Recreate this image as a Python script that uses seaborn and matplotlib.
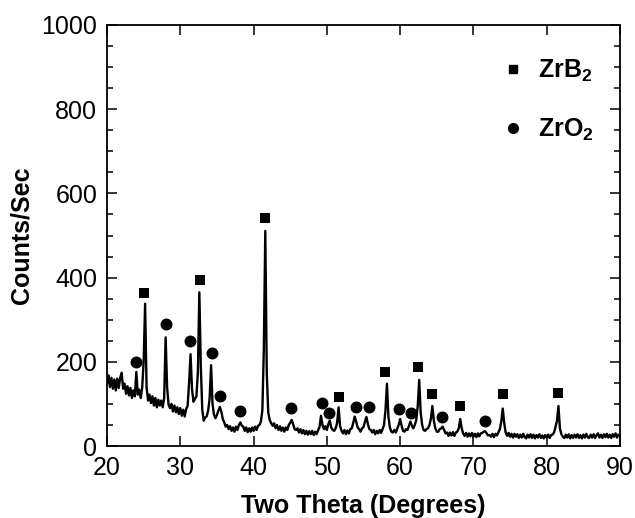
import numpy as np
import pandas as pd
import matplotlib
matplotlib.use("Agg")
import matplotlib.pyplot as plt
from matplotlib.lines import Line2D
from matplotlib.ticker import MultipleLocator
import seaborn as sns

# ---- data -------------------------------------------------------------
two_theta_start = 20.0
two_theta_step = 0.2
counts = [
    152, 168, 140, 162, 136, 158, 132, 160, 138, 162,   # 20.0
    174, 136, 148, 124, 142, 120, 138, 114, 132, 118,   # 22.0
    176, 122, 134, 114, 138, 200, 338, 140, 108, 122,   # 24.0
    102, 118, 96, 114, 92, 110, 96, 108, 92, 114,       # 26.0
    258, 140, 98, 90, 100, 82, 96, 80, 92, 76,          # 28.0
    90, 72, 86, 70, 88, 95, 150, 218, 135, 105,         # 30.0
    112, 118, 175, 365, 190, 86, 60, 68, 70, 84,        # 32.0
    112, 192, 100, 74, 66, 74, 84, 93, 82, 64,          # 34.0
    56, 46, 50, 40, 47, 36, 44, 34, 46, 38,             # 36.0
    50, 56, 48, 46, 36, 44, 33, 42, 34, 44,             # 38.0
    36, 46, 38, 48, 50, 58, 85, 230, 511, 175,          # 40.0
    80, 62, 54, 48, 54, 42, 50, 38, 47, 36,             # 42.0
    44, 34, 44, 38, 50, 55, 62, 52, 40, 38,             # 44.0
    42, 32, 40, 30, 38, 28, 36, 27, 35, 28,             # 46.0
    36, 26, 34, 28, 37, 45, 72, 50, 40, 47,             # 48.0
    38, 52, 60, 44, 38, 36, 42, 55, 92, 48,             # 50.0
    36, 30, 38, 28, 37, 30, 40, 42, 55, 70,             # 52.0
    58, 44, 40, 34, 42, 45, 58, 69, 52, 40,             # 54.0
    38, 32, 38, 28, 36, 30, 38, 31, 40, 50,             # 56.0
    85, 148, 70, 44, 34, 32, 38, 32, 41, 50,            # 58.0
    64, 48, 36, 34, 40, 38, 48, 58, 48, 42,             # 60.0
    50, 62, 95, 157, 80, 50, 38, 36, 40, 42,            # 62.0
    50, 65, 95, 60, 42, 34, 34, 40, 42, 46,             # 64.0
    38, 30, 32, 24, 32, 25, 33, 24, 32, 34,             # 66.0
    42, 64, 42, 30, 24, 31, 22, 30, 23, 31,             # 68.0
    22, 29, 21, 30, 23, 30, 31, 34, 35, 30,             # 70.0
    25, 26, 22, 29, 21, 29, 25, 32, 40, 58,             # 72.0
    89, 55, 32, 24, 31, 22, 29, 20, 29, 22,             # 74.0
    28, 19, 27, 20, 29, 21, 18, 27, 20, 28,             # 76.0
    19, 27, 18, 26, 20, 28, 19, 25, 18, 26,             # 78.0
    20, 27, 19, 26, 27, 32, 45, 60, 95, 42,             # 80.0
    28, 22, 19, 27, 20, 28, 18, 26, 19, 27,             # 82.0
    20, 28, 19, 26, 18, 27, 20, 29, 21, 19,             # 84.0
    27, 20, 28, 19, 26, 30, 20, 27, 19, 28,             # 86.0
    21, 29, 20, 27, 19, 28, 22, 30, 20, 27,             # 88.0
    24,                                                 # 90.0
]

zrb2_x = [25.1, 32.7, 41.55, 51.6, 58.0, 62.5, 64.4, 68.2, 74.1, 81.5]
zrb2_y = [364, 395, 541, 116, 176, 188, 123, 95, 123, 127]

zro2_x = [24.0, 28.1, 31.3, 34.3, 35.4, 38.2, 45.1, 49.3, 50.3, 54.0,
          55.75, 59.9, 61.5, 65.75, 71.6]
zro2_y = [200, 290, 250, 220, 119, 84, 90, 102, 78, 93,
          93, 87, 78, 70, 60]

phase_labels = [r"ZrB$_{\mathbf{2}}$", r"ZrO$_{\mathbf{2}}$"]
x_ticks = [20, 30, 40, 50, 60, 70, 80, 90]
y_ticks = [0, 200, 400, 600, 800, 1000]

# ---- styling ----------------------------------------------------------
sns.set_style("ticks")
plt.rcParams["font.family"] = ["Liberation Sans", "DejaVu Sans"]
plt.rcParams["mathtext.fontset"] = "custom"
plt.rcParams["mathtext.rm"] = "Liberation Sans"
plt.rcParams["mathtext.bf"] = "Liberation Sans:bold"
for key in ["text.color", "axes.labelcolor", "xtick.color", "ytick.color",
            "axes.edgecolor"]:
    plt.rcParams[key] = "black"

two_theta = np.round(two_theta_start + two_theta_step * np.arange(len(counts)), 2)
df = pd.DataFrame({"two_theta": two_theta, "counts": counts})

fig = plt.figure(figsize=(6.35, 5.18), dpi=100)
ax = fig.add_axes([107 / 635, 1 - 446 / 518, (620 - 107) / 635, (446 - 25) / 518])

sns.lineplot(data=df, x="two_theta", y="counts", ax=ax, color="black",
             linewidth=1.7, estimator=None, sort=False)

sns.scatterplot(x=zrb2_x, y=zrb2_y, ax=ax, marker="s", color="black",
                s=52, linewidth=0, zorder=5)
sns.scatterplot(x=zro2_x, y=zro2_y, ax=ax, marker="o", color="black",
                s=74, linewidth=0, zorder=5)

ax.set_xlim(20, 90)
ax.set_ylim(0, 1000)
ax.set_xticks(x_ticks)
ax.set_yticks(y_ticks)
ax.yaxis.set_minor_locator(MultipleLocator(50))
ax.tick_params(which="major", direction="in", length=7, width=1.1,
               labelsize=18, top=True, right=True, pad=7)
ax.tick_params(which="minor", direction="in", length=4, width=1.1,
               top=False, right=True, left=True)
for s in ax.spines.values():
    s.set_linewidth(1.3)
    s.set_color("black")

ax.set_xlabel("Two Theta (Degrees)", fontsize=18, fontweight="bold", labelpad=10)
ax.set_ylabel("Counts/Sec", fontsize=18, fontweight="bold", labelpad=6)

handles = [
    Line2D([], [], marker="s", ls="", color="black", markersize=6),
    Line2D([], [], marker="o", ls="", color="black", markersize=7),
]
leg = ax.legend(handles, phase_labels, loc="upper left",
                bbox_to_anchor=(490 / 635, 1 - 48 / 518),
                bbox_transform=fig.transFigure, frameon=False,
                prop={"size": 18, "weight": "bold"}, handletextpad=0.5,
                handlelength=1.0, labelspacing=1.3, borderaxespad=0)

fig.savefig("out.png", dpi=100)
